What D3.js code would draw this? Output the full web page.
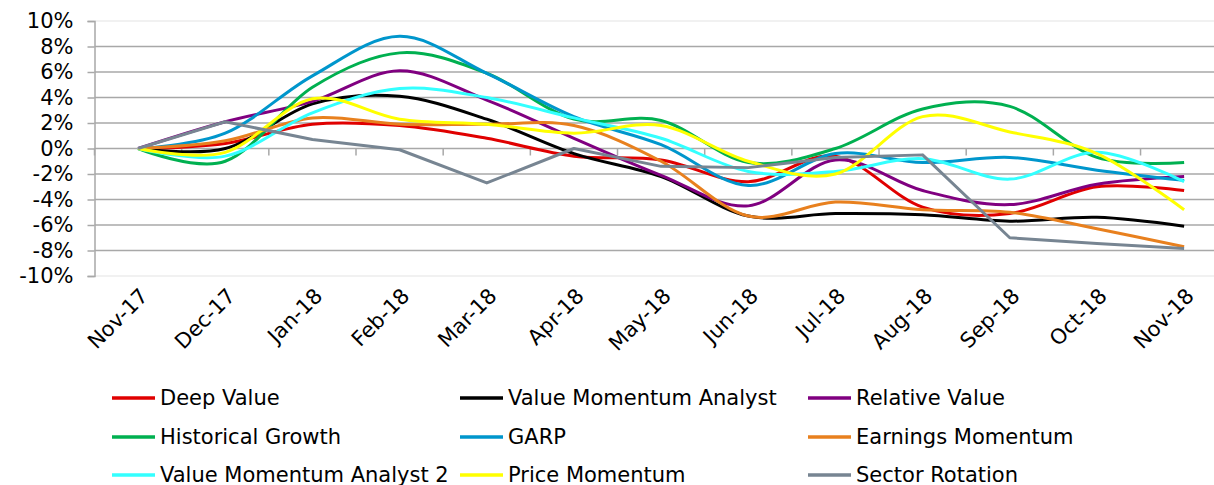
<!DOCTYPE html>
<html>
<head>
<meta charset="utf-8">
<script src="https://cdn.jsdelivr.net/npm/d3@7"></script>
<style>
    body { margin: 0; background: #fff; }
    svg { display: block; font-family: "DejaVu Sans", Verdana, sans-serif; }
</style>
</head>
<body>
<script>
let months = ["Nov-17", "Dec-17", "Jan-18", "Feb-18", "Mar-18", "Apr-18", "May-18",
              "Jun-18", "Jul-18", "Aug-18", "Sep-18", "Oct-18", "Nov-18"];
let yTicks = [-10, -8, -6, -4, -2, 0, 2, 4, 6, 8, 10];

let deepValue      = [0, 0.4, 1.9, 1.8, 0.8, -0.6, -0.9, -2.6, -0.6, -4.6, -5.1, -3.0, -3.3];
let valueMomentum  = [0, 0.0, 3.5, 4.1, 2.3, -0.4, -2.2, -5.3, -5.1, -5.2, -5.7, -5.4, -6.1];
let relativeValue  = [0, 2.1, 3.7, 6.1, 3.8, 0.8, -2.1, -4.5, -0.9, -3.3, -4.4, -2.8, -2.2];
let histGrowth     = [0, -1.0, 4.8, 7.5, 5.9, 2.3, 2.2, -1.1, 0.0, 3.1, 3.3, -0.7, -1.1];
let garp           = [0, 1.2, 5.7, 8.8, 5.9, 2.5, 0.3, -2.9, -0.4, -1.1, -0.7, -1.7, -2.5];
let earnMomentum   = [0, 0.6, 2.4, 1.9, 1.9, 1.8, -1.0, -5.3, -4.2, -4.8, -5.0, -6.3, -7.7];
let valueMomentum2 = [0, -0.6, 2.8, 4.7, 4.0, 2.4, 0.8, -1.8, -1.8, -0.8, -2.4, -0.3, -2.6];
let priceMomentum  = [0, -0.3, 3.9, 2.3, 1.9, 1.2, 1.8, -1.0, -2.0, 2.5, 1.3, -0.4, -4.8];
let sectorRotation = [0, 2.1, 0.7, -0.1, -2.7, 0.0, -1.4, -1.5, -0.7, -0.5, -7.0, -7.45, -7.85];

let seriesNames = ["Deep Value", "Value Momentum Analyst", "Relative Value",
                   "Historical Growth", "GARP", "Earnings Momentum",
                   "Value Momentum Analyst 2", "Price Momentum", "Sector Rotation"];
let seriesValues = [deepValue, valueMomentum, relativeValue, histGrowth, garp,
                    earnMomentum, valueMomentum2, priceMomentum, sectorRotation];
let seriesColors = ["#e00000", "#000000", "#800080", "#00b050", "#0096cc",
                    "#e8801e", "#33ffff", "#ffff00", "#778592"];

let width = 1214, height = 485;
let margin = {top: 21, left: 94.5, bottom: 276};

let svg = d3.select("body").append("svg")
    .attr("width", width)
    .attr("height", height);

let xBand = d3.scaleBand(months, [margin.left, margin.left + 13 * 87.17]);
let x = d => xBand(d) + xBand.bandwidth() / 2;
let y = d3.scaleLinear([-10, 10], [margin.bottom, margin.top]);

// grid
svg.append("g")
    .selectAll("line")
    .data(yTicks)
    .join("line")
      .attr("x1", margin.left)
      .attr("x2", width)
      .attr("y1", d => y(d))
      .attr("y2", d => y(d))
      .attr("stroke", d => Math.abs(d) == 10 ? "#ececec" : "#a8a8a8")
      .attr("stroke-width", 1.5);

// y axis
let yAxis = svg.append("g")
    .attr("transform", `translate(${margin.left},0)`)
    .call(d3.axisLeft(y).tickValues(yTicks).tickSize(7).tickPadding(14).tickFormat(d => d + "%"));
yAxis.select(".domain").attr("stroke", "#a8a8a8").attr("stroke-width", 1.5);
yAxis.selectAll(".tick line").attr("stroke", "#a8a8a8").attr("stroke-width", 1.5);
yAxis.selectAll("text").style("font-size", "21px").attr("fill", "#000")
    .attr("font-family", "DejaVu Sans");

// x axis on zero line, ticks at band edges
let xAxis = svg.append("g")
    .attr("transform", `translate(0,${y(0)})`)
    .call(d3.axisBottom(xBand).tickSize(7).tickFormat(""))
xAxis.select(".domain").remove();
xAxis.selectAll(".tick").attr("transform", d => `translate(${xBand(d)},0)`);
xAxis.selectAll(".tick line").attr("stroke", "#a8a8a8").attr("stroke-width", 1.5);

svg.append("g")
    .selectAll("text")
    .data(months)
    .join("text")
      .attr("transform", d => `translate(${x(d) + 6},${margin.bottom + 16}) rotate(-45)`)
      .attr("text-anchor", "end")
      .attr("dy", "0.35em")
      .style("font-size", "21px")
      .text(d => d);

// series
let smooth = d3.line()
    .x((d, i) => x(months[i]))
    .y(d => y(d))
    .curve(d3.curveCardinal.tension(0));
let straight = d3.line()
    .x((d, i) => x(months[i]))
    .y(d => y(d));

svg.append("g")
    .selectAll("path")
    .data(seriesValues)
    .join("path")
      .attr("fill", "none")
      .attr("stroke", (d, i) => seriesColors[i])
      .attr("stroke-width", 3)
      .attr("stroke-linejoin", "round")
      .attr("d", (d, i) => i == 8 ? straight(d) : smooth(d));

// legend
let legendX = [112, 460, 808];
let legendY = [398, 437, 475];
let legend = svg.append("g")
    .selectAll("g")
    .data(seriesNames)
    .join("g")
      .attr("transform", (d, i) => `translate(${legendX[i % 3]},${legendY[Math.floor(i / 3)]})`);
legend.append("line")
    .attr("x1", 0)
    .attr("x2", 43)
    .attr("stroke", (d, i) => seriesColors[i])
    .attr("stroke-width", 3.5);
legend.append("text")
    .attr("x", 48)
    .attr("dy", "0.35em")
    .style("font-size", "21px")
    .text(d => d);
</script>
</body>
</html>
